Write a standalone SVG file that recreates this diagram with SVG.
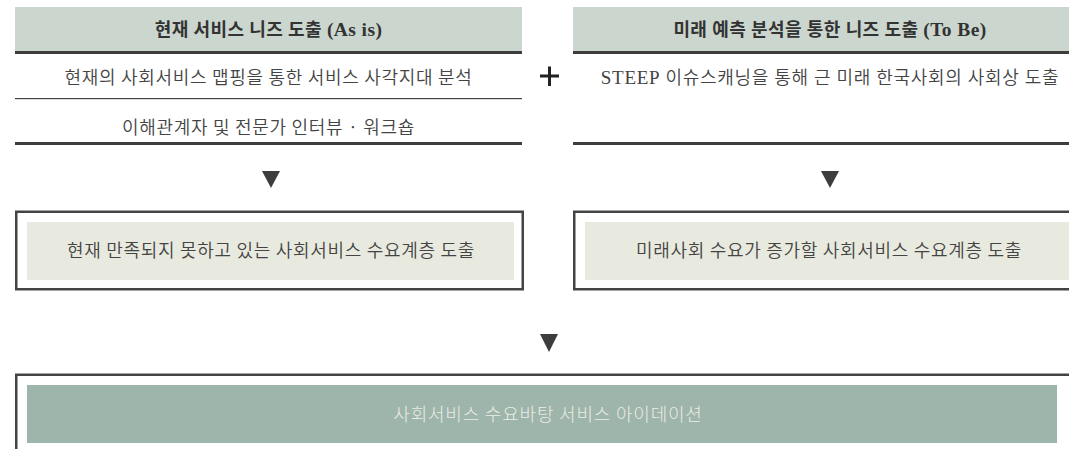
<svg xmlns="http://www.w3.org/2000/svg" width="1069" height="449" viewBox="0 0 1069 449">
<style>
.hdr{fill:#cbd6cf}
.bar{fill:#3d3d3d}
.frame{fill:#ffffff;stroke:#444444;stroke-width:2.5}
.inner{fill:#e9eadf}
.htxt{font-family:"Liberation Serif","Noto Sans CJK KR",serif;font-size:18px;font-weight:700;fill:#333333;text-anchor:middle;letter-spacing:0.4px}
.lat{font-size:19.5px}
.btxt{font-family:"Liberation Serif","Noto Sans CJK KR",sans-serif;font-size:18px;font-weight:350;fill:#444444;text-anchor:middle;letter-spacing:0.7px}
.ktxt{font-family:"Noto Sans CJK KR",sans-serif;font-size:18px;font-weight:350;fill:#444444;text-anchor:middle;letter-spacing:0.7px}
.wtxt{font-family:"Noto Sans CJK KR",sans-serif;font-size:18px;font-weight:300;fill:#ecece4;text-anchor:middle;letter-spacing:0.8px}
.tri{fill:#3d3d3d}
</style>
<rect width="1069" height="449" fill="#ffffff"/>

<g id="asis">
<rect class="hdr" x="15" y="7" width="507" height="44"/>
<rect class="bar" x="15" y="51" width="507" height="3"/>
<text class="htxt" x="268.5" y="36">현재 서비스 니즈 도출 <tspan class="lat">(As is)</tspan></text>
<text class="ktxt" x="268.5" y="84">현재의 사회서비스 맵핑을 통한 서비스 사각지대 분석</text>
<rect x="15" y="98" width="507" height="1.2" fill="#444444"/>
<text class="ktxt" x="268.5" y="134">이해관계자 및 전문가 인터뷰 · 워크숍</text>
<rect class="bar" x="15" y="142" width="507" height="3"/>
</g>

<g id="tobe">
<rect class="hdr" x="573" y="7" width="510" height="44"/>
<rect class="bar" x="573" y="51" width="510" height="3"/>
<text class="htxt" x="830" y="36">미래 예측 분석을 통한 니즈 도출 <tspan class="lat">(To Be)</tspan></text>
<text class="btxt" x="830" y="84"><tspan class="lat" style="font-size:19px;font-weight:400">STEEP</tspan> 이슈스캐닝을 통해 근 미래 한국사회의 사회상 도출</text>
<rect class="bar" x="573" y="142" width="510" height="3"/>
</g>

<g id="asis-result">
<rect class="frame" x="16.25" y="211.75" width="506.5" height="77.5"/>
<rect class="inner" x="27" y="222" width="487" height="58"/>
<text class="ktxt" x="271" y="257">현재 만족되지 못하고 있는 사회서비스 수요계층 도출</text>
</g>

<g id="tobe-result">
<rect class="frame" x="574.25" y="211.75" width="510" height="77.5"/>
<rect class="inner" x="585" y="222" width="490" height="58"/>
<text class="ktxt" x="829" y="257">미래사회 수요가 증가할 사회서비스 수요계층 도출</text>
</g>

<g id="ideation">
<rect class="frame" x="16.25" y="374.75" width="1060" height="90"/>
<rect x="27" y="385" width="1030" height="58" fill="#9db5aa"/>
<text class="wtxt" x="548" y="421">사회서비스 수요바탕 서비스 아이데이션</text>
</g>

<g id="connectors">
<path d="M540 76H559M549.5 66.5V86" stroke="#222222" stroke-width="3" fill="none"/>
<polygon class="tri" points="262,171 280,171 271,188"/>
<polygon class="tri" points="821,171 839,171 830,188"/>
<polygon class="tri" points="540,334 558,334 549,352"/>
</g>
</svg>
